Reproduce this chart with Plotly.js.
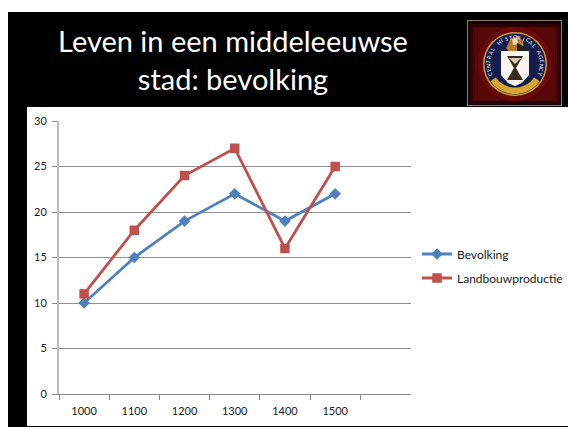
<!DOCTYPE html>
<html><head><meta charset="utf-8">
<script src="https://cdn.plot.ly/plotly-3.0.1.min.js"></script>
<style>html,body{margin:0;padding:0;background:#fff;overflow:hidden}</style></head>
<body><div id="chart" style="width:568px;height:427px"></div>
<script>
const categories = ['1000','1100','1200','1300','1400','1500',' '];
const bevolking = [10,15,19,22,19,22];
const landbouwproductie = [11,18,24,27,16,25];
const yTicks = [0,5,10,15,20,25,30];
const titleText = 'Leven in een middeleeuwse<br>stad: bevolking';
const sealText = 'CENTRAL HISTORICAL AGENCY';

const W=568,H=427;
const X=x=>x/W, Y=y=>1-y/H;
const shapes=[];
function rect(x0,y0,x1,y1,fill){shapes.push({type:'rect',xref:'paper',yref:'paper',x0:X(x0),x1:X(x1),y0:Y(y0),y1:Y(y1),fillcolor:fill,line:{width:0},layer:'below'});}
function circ(cx,cy,r,fill,lc,lw){shapes.push({type:'circle',xref:'paper',yref:'paper',x0:X(cx-r),x1:X(cx+r),y0:Y(cy+r),y1:Y(cy-r),fillcolor:fill,line:{width:lw||0,color:lc||fill},layer:'below'});}
function poly(pts,fill){shapes.push({type:'path',xref:'paper',yref:'paper',path:'M'+pts.map(p=>X(p[0]).toFixed(5)+','+Y(p[1]).toFixed(5)).join('L')+'Z',fillcolor:fill,line:{width:0},layer:'below'});}

// slide
rect(8,12,568,427,'#000000');
rect(27,107,568,426,'#ffffff');
// emblem frame and glow
const cx=515,cy=64;
rect(467,20,562,106,'#8f8068');
rect(468,21,561,105,'#140304');
[[46,40,'#240405'],[44,38,'#340506'],[42,37,'#460607'],[40,36,'#580708']].forEach(g=>rect(cx-g[0],cy-g[1],cx+g[0],cy+g[1],g[2]));
circ(cx,cy,37,'#6a090a');
circ(cx,cy,32,'#c79a3a');
circ(cx,cy,30.5,'#141d4e');
// gold banner, lower arc
const arc=[];
for(let a=35;a<=145;a+=5){const t=a*Math.PI/180;arc.push([cx+30*Math.cos(t),cy+30*Math.sin(t)]);}
for(let a=145;a>=35;a-=5){const t=a*Math.PI/180;arc.push([cx+23.5*Math.cos(t),cy+23.5*Math.sin(t)]);}
poly(arc,'#d9a52f');
// crest
const ox=1,oy=1;
const sh=p=>p.map(q=>[q[0]+ox,q[1]+oy]);
poly(sh([[505,47],[510,37],[517,35],[522,40],[523,48],[518,51],[508,51]]),'#b9772a');
poly(sh([[511,38],[516,37],[517,43],[512,44]]),'#e8d9b8');
poly(sh([[516,42],[526,47],[524,51],[516,50]]),'#23201a');
// shield
poly(sh([[500,50],[528,50],[528,74],[521,82],[514,85],[507,82],[500,74]]),'#f7f5ee');
// hourglass
poly(sh([[506,55],[522,55],[515,67],[522,79],[506,79],[513,67]]),'#3a2a1c');
poly(sh([[508,57],[520,57],[514,63]]),'#d8cbb5');

// seal letters
const ann=[];
const n=sealText.length;
for(let i=0;i<n;i++){
  if(sealText[i]===' ')continue;
  const deg=-112+224*i/(n-1), t=(deg-90)*Math.PI/180;
  ann.push({xref:'paper',yref:'paper',x:X(cx+26.8*Math.cos(t)),y:Y(cy+26.8*Math.sin(t)),text:sealText[i],textangle:deg,showarrow:false,
    xanchor:'center',yanchor:'middle',font:{family:'Lato, sans-serif',size:5.5,color:'#e6e6e6'}});
}

const traces=[
 {x:categories.slice(0,6),y:bevolking,name:'Bevolking',legendgroup:'a',type:'scatter',mode:'lines+markers',
  line:{color:'#4f81bd',width:2.8},marker:{symbol:'diamond',size:9,color:'#4f81bd'}},
 {x:categories.slice(0,6),y:landbouwproductie,name:'Landbouwproductie',legendgroup:'b',type:'scatter',mode:'lines+markers',
  line:{color:'#c0504d',width:2.8},marker:{symbol:'square',size:9.5,color:'#c0504d'}}
];
const layout={
 width:W,height:H,margin:{l:0,r:0,t:0,b:0},autosize:false,showlegend:true,
 paper_bgcolor:'#ffffff',plot_bgcolor:'rgba(0,0,0,0)',
 font:{family:'Lato, sans-serif',color:'#1a1a1a'},
 title:{text:titleText,font:{family:'Lato, sans-serif',size:29,color:'#ffffff'},x:X(233),xanchor:'center',xref:'paper',y:Y(52),yanchor:'middle'},
 xaxis:{domain:[X(59),X(410.5)],type:'category',categoryorder:'array',categoryarray:categories,range:[-0.5,6.5],
  tickson:'boundaries',ticks:'outside',ticklen:5,tickcolor:'#8a8a8a',tickwidth:1,showline:true,linecolor:'#8a8a8a',linewidth:1,showgrid:false,zeroline:false,
  tickfont:{size:11,color:'#1a1a1a'},ticklabelstandoff:7,fixedrange:true},
 yaxis:{domain:[Y(394),Y(121)],range:[0,30],tickvals:yTicks,ticks:'outside',ticklen:5,tickcolor:'#8a8a8a',tickwidth:1,
  showline:true,linecolor:'#bdbdbd',linewidth:2,showgrid:true,gridcolor:'#8f8f8f',gridwidth:1,zeroline:false,
  tickfont:{size:11,color:'#1a1a1a'},ticklabelstandoff:3,fixedrange:true},
 legend:{x:X(568),xanchor:'right',y:Y(266),yanchor:'middle',font:{size:12,color:'#1a1a1a'},bgcolor:'rgba(0,0,0,0)',itemwidth:30,tracegroupgap:5},
 shapes:shapes,annotations:ann
};
Plotly.newPlot('chart',traces,layout,{displayModeBar:false,staticPlot:true});
</script></body></html>
